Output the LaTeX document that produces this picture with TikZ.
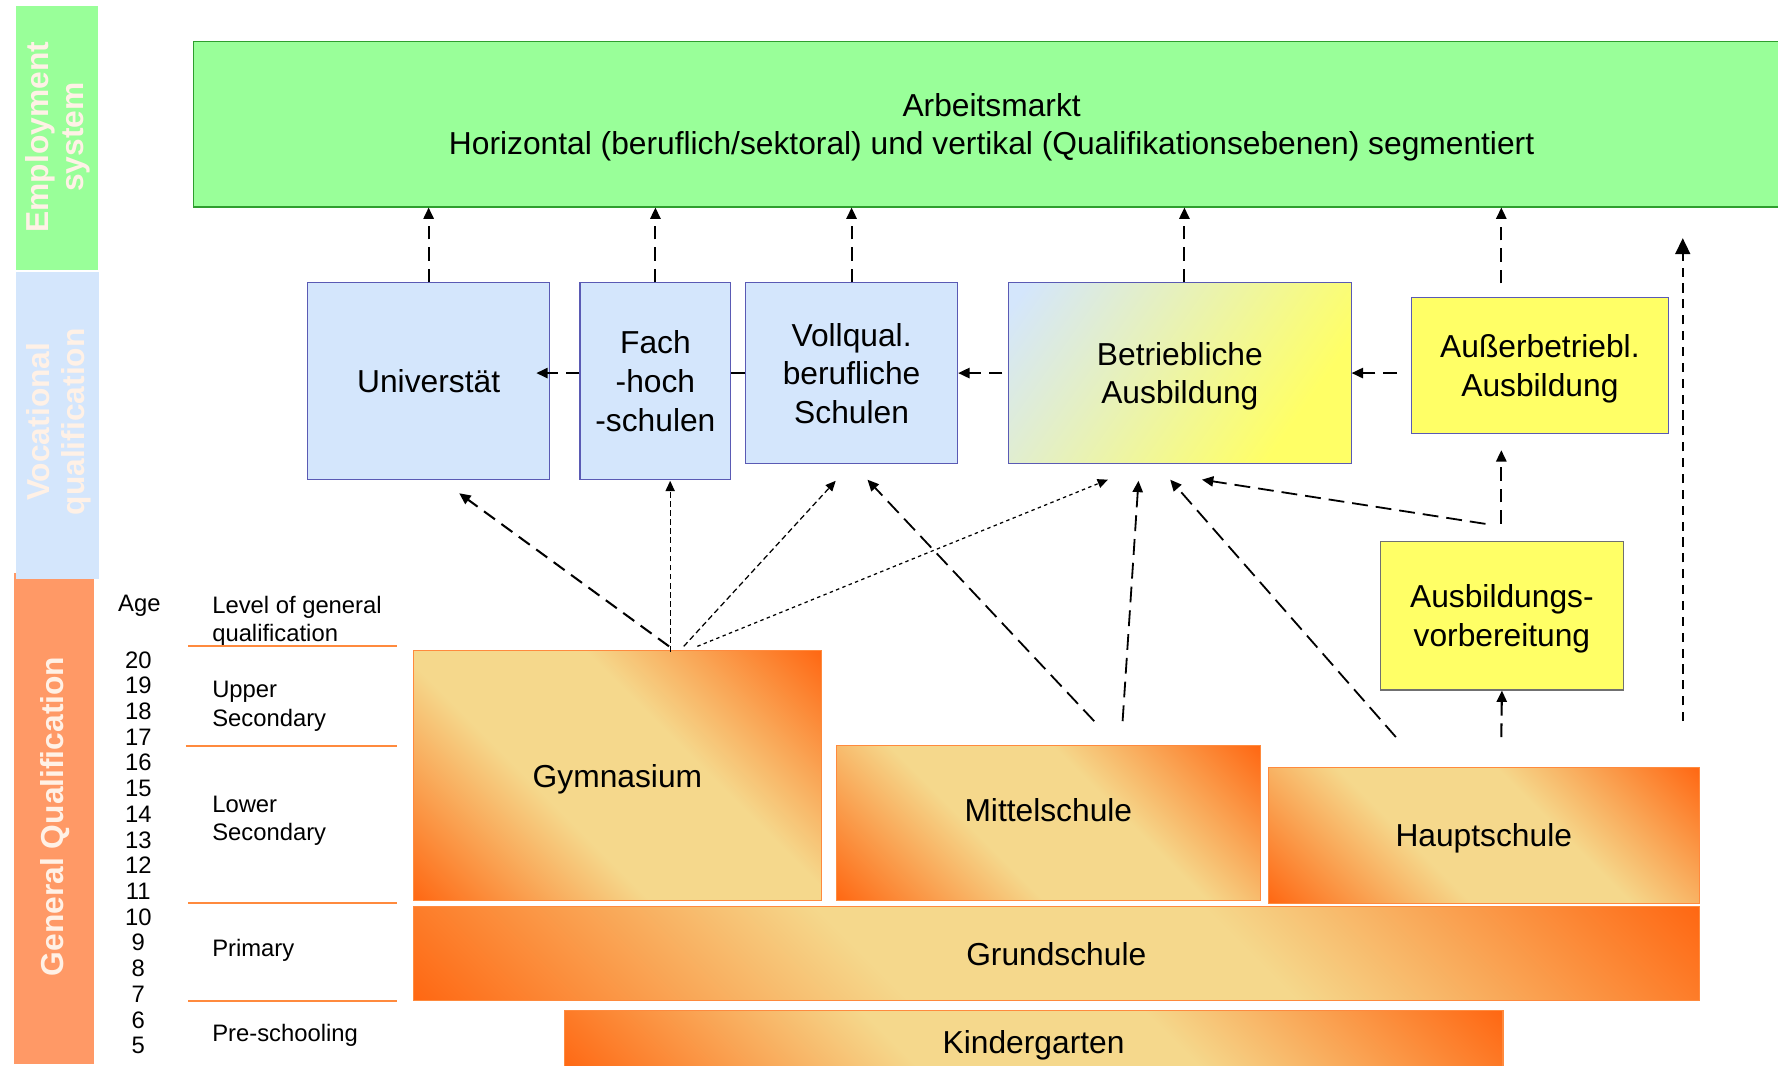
\documentclass[tikz,border=0pt]{standalone}
\usepackage{fontspec}
\setmainfont{Liberation Sans}
\usetikzlibrary{arrows.meta,calc}
\definecolor{empgreen}{HTML}{99FF99}
\definecolor{empborder}{HTML}{2E9E2E}
\definecolor{vocblue}{HTML}{D4E6FC}
\definecolor{boxborder}{HTML}{5A5AB4}
\definecolor{genorange}{HTML}{FF9966}
\definecolor{bandtext}{HTML}{FFF1E6}
\definecolor{yel}{HTML}{FFFF66}
\definecolor{lightor}{HTML}{F5D88C}
\definecolor{darkor}{HTML}{FF6510}
\definecolor{lineor}{HTML}{FF8A3D}
\definecolor{grayborder}{HTML}{707070}
\pgfdeclarehorizontalshading{orrefl}{100bp}{color(0bp)=(darkor); color(14bp)=(darkor); color(40bp)=(lightor); color(60bp)=(lightor); color(86bp)=(darkor); color(100bp)=(darkor)}
\pgfdeclarehorizontalshading{betrshade}{100bp}{color(0bp)=(vocblue); color(18bp)=(vocblue); color(72bp)=(yel); color(100bp)=(yel)}
\newcommand{\bxfont}{\fontsize{28}{34}\selectfont}
\newcommand{\lvlfont}{\fontsize{21}{25}\selectfont}
\newcommand{\bandfont}{\fontsize{28}{31}\selectfont\bfseries}
\begin{document}
\begin{tikzpicture}[x=1pt,y=-1pt,
  bandnode/.style={inner sep=0pt, anchor=north west},
  bandlabel/.style={rotate=90, align=center, text=bandtext, font=\bandfont, inner sep=0pt},
  bluebox/.style={draw=boxborder, fill=vocblue, line width=1pt, inner sep=0pt, anchor=north west, align=center, font=\bxfont, text depth=0pt},
  yelbox/.style={draw=boxborder, fill=yel, line width=1pt, inner sep=0pt, anchor=north west, align=center, font=\bxfont, text depth=0pt},
  orbox/.style={draw=lineor, line width=1pt, shade, shading=orrefl, shading angle=45, inner sep=0pt, anchor=north west, align=center, font=\bxfont, text depth=0pt},
  lvl/.style={anchor=west, align=left, font=\lvlfont, inner sep=0pt},
  agenum/.style={font=\lvlfont, inner sep=0pt},
  rule/.style={draw=lineor, line width=1.6pt},
  upar/.style={line width=1.8pt, dash pattern=on 12pt off 7pt, -{Triangle[length=10pt,width=9pt]}},
  longd/.style={line width=1.6pt, dash pattern=on 14pt off 7pt, -{Triangle[length=10pt,width=9pt]}},
  finea/.style={line width=1.1pt, dash pattern=on 5pt off 3pt, -{Triangle[length=9pt,width=8pt]}},
  fineb/.style={line width=1.1pt, dash pattern=on 3pt off 3pt, -{Triangle[length=9pt,width=8pt]}},
  bigar/.style={line width=1.8pt, dash pattern=on 8pt off 6pt, -{Triangle[length=14pt,width=13pt]}}
]
\useasboundingbox (0,0) rectangle (1568,940);
\fill[white] (0,0) rectangle (1568,940);

% left bands
\node[bandnode, fill=genorange, minimum width=71pt, minimum height=433pt] (bandgen) at (12,505) {};
\node[bandnode, fill=vocblue, minimum width=73pt, minimum height=270pt] (bandvoc) at (14,240) {};
\node[bandnode, fill=empgreen, minimum width=72pt, minimum height=233pt] (bandemp) at (14,5) {};
\node[bandlabel] (emptext) at (51,121) {Employment\\system};
\node[bandlabel] (voctext) at (52,372) {Vocational\\qualification};
\node[bandlabel] (gentext) at (49,720) {General Qualification};

% labor market
\node[draw=empborder, fill=empgreen, line width=1pt, inner sep=0pt, anchor=north west, minimum width=1408pt, minimum height=146pt, align=center, font=\bxfont, text depth=0pt] (market) at (170,36) {Arbeitsmarkt\\Horizontal (beruflich/sektoral) und vertikal (Qualifikationsebenen) segmentiert};

% vocational boxes
\node[bluebox, minimum width=213pt, minimum height=173pt] (univ) at (271,249) {Universtät};
\node[bluebox, minimum width=133pt, minimum height=173pt] (fach) at (511,249) {Fach\\-hoch\\-schulen};
\node[bluebox, minimum width=187pt, minimum height=159pt] (voll) at (657,249) {Vollqual.\\berufliche\\Schulen};
\node[draw=boxborder, line width=1pt, shade, shading=betrshade, shading angle=-35, inner sep=0pt, anchor=north west, align=center, font=\bxfont, text depth=0pt, minimum width=302pt, minimum height=159pt] (betr) at (889,249) {Betriebliche\\Ausbildung};
\node[yelbox, minimum width=227pt, minimum height=120pt] (ausser) at (1244,262) {Außerbetriebl.\\Ausbildung};
\node[yelbox, draw=grayborder, minimum width=214pt, minimum height=131pt] (vorb) at (1217,477) {Ausbildungs-\\vorbereitung};

% general schools
\node[orbox, minimum width=360pt, minimum height=221pt] (gym) at (364,573) {Gymnasium};
\node[orbox, minimum width=374pt, minimum height=137pt] (mittel) at (737,657) {};
\node[font=\bxfont, inner sep=0pt, text depth=0pt] (mitteltext) at ([yshift=12pt]mittel.center) {Mittelschule};
\node[orbox, minimum width=380pt, minimum height=120pt] (haupt) at (1118,676) {Hauptschule};
\node[orbox, minimum width=1134pt, minimum height=83pt] (grund) at (364,799) {Grundschule};
\node[orbox, minimum width=828pt, minimum height=54pt] (kinder) at (497,891) {Kindergarten};

% level of general qualification table
\node[lvl] (agehead) at (104,534) {Age};
\node[lvl] (lvlhead) at (187,548) {Level of general\\qualification};
\node[lvl] (upper) at (187,623) {Upper\\Secondary};
\node[lvl] (lower) at (187,724) {Lower\\Secondary};
\node[lvl] (primary) at (187,838) {Primary};
\node[lvl] (pre) at (187,913) {Pre-schooling};
\foreach \a in {20,19,...,5} {
  \node[agenum] (age\a) at (122,{582+(20-\a)*22.67}) {\a};
}
\draw[rule] (166,570) -- (350,570);
\draw[rule] (164,658) -- (350,658);
\draw[rule] (166,796) -- (350,796);
\draw[rule] (166,883) -- (350,883);

% coordinates for free ends
\coordinate (g1) at (590,570);
\coordinate (g1t) at (405,435);
\coordinate (g2) at (591,575);
\coordinate (g2t) at (591,424);
\coordinate (g3) at (603,570);
\coordinate (g3t) at (737,424);
\coordinate (g4) at (615,570);
\coordinate (g4t) at (977,423);
\coordinate (m1) at (965,636);
\coordinate (m1t) at (765,423);
\coordinate (m2) at (990,636);
\coordinate (m2t) at (1004,424);
\coordinate (h1) at (1231,650);
\coordinate (h1t) at (1032,423);
\coordinate (v1) at (1310,462);
\coordinate (v1t) at (1060,423);
\coordinate (v2) at (1324,462);
\coordinate (v2t) at (1324,397);
\coordinate (h2) at (1324,650);
\coordinate (r1) at (1484,636);
\coordinate (r1t) at (1484,210);
\coordinate (a1) at (1324,250);

% arrows to the labour market
\draw[upar] (univ.north) -- (univ.north |- market.south);
\draw[upar] (fach.north) -- (fach.north |- market.south);
\draw[upar] (voll.north) -- (voll.north |- market.south);
\draw[upar] ([xshift=4pt]betr.north) -- ([xshift=4pt]betr.north |- market.south);
\draw[upar] (a1) -- (a1 |- market.south);
\draw[bigar] (r1) -- (r1t);

% horizontal arrows
\draw[line width=1.8pt] (voll.west) -- (voll.west -| fach.east);
\draw[upar] (voll.west -| fach.west) -- ($(voll.west -| univ.east)+(-12,0)$);
\draw[upar] ($(betr.west)+(-5,0)$) -- (voll.east);
\draw[upar] ($(betr.east -| ausser.west)+(-12,0)$) -- (betr.east);

% arrows from general schools
\draw[upar] (g1) -- (g1t);
\draw[finea] (g2) -- (g2t);
\draw[finea] (g3) -- (g3t);
\draw[fineb] (g4) -- (g4t);
\draw[longd] (m1) -- (m1t);
\draw[longd] (m2) -- (m2t);
\draw[longd] (h1) -- (h1t);
\draw[longd] (v1) -- (v1t);
\draw[upar] (v2) -- (v2t);
\draw[upar] (h2) -- (vorb.south);
\end{tikzpicture}
\end{document}
